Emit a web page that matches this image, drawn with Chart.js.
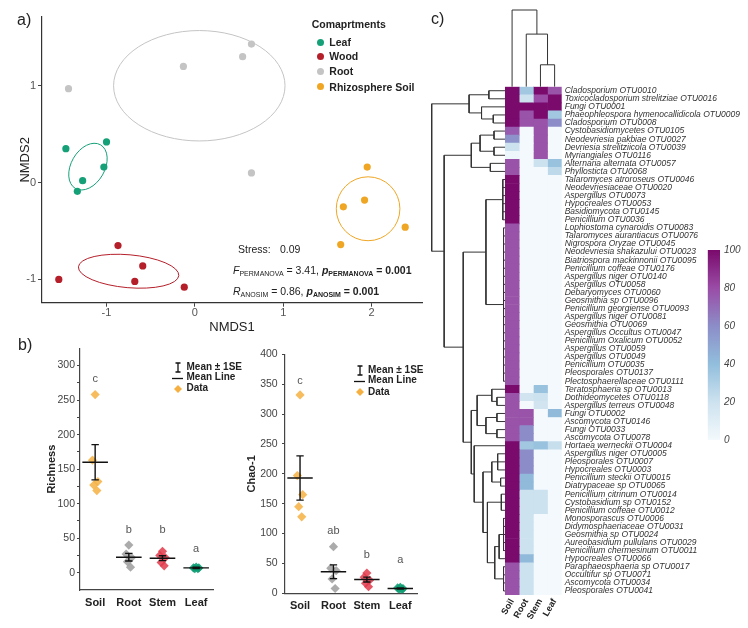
<!DOCTYPE html>
<html lang="en">
<head>
  <meta charset="UTF-8">
  <title>Fungal communities by compartment</title>
  <script src="https://cdn.jsdelivr.net/npm/chart.js"></script>
  <style>
    body { margin: 0; background: #fff; }
    #fig { position: relative; width: 748px; height: 628px; overflow: hidden;
           font-family: "Liberation Sans", Arial, sans-serif; color: #222; }
    #fig canvas, #fig svg, .t, .dot { position: absolute; }
    .t { white-space: nowrap; line-height: 1; }
    .b { font-weight: bold; }
    .dot { width: 7px; height: 7px; border-radius: 50%; }
    .sc { font-size: 7px; position: relative; top: 2px; }
  </style>
  <script>
    addEventListener("DOMContentLoaded", init);

    // ---- a) NMDS ----
    const compartments = ["Leaf", "Wood", "Root", "Rhizosphere Soil"];
    const leafNmds1 = [-1.46, -1.00, -1.03, -1.27, -1.33];
    const leafNmds2 = [0.35, 0.42, 0.16, 0.02, -0.09];
    const woodNmds1 = [-0.87, -0.59, -0.68, -1.54, -0.12];
    const woodNmds2 = [-0.65, -0.86, -1.02, -1.00, -1.08];
    const rootNmds1 = [-1.43, -0.13, 0.54, 0.64, 0.64];
    const rootNmds2 = [0.97, 1.20, 1.30, 1.43, 0.10];
    const soilNmds1 = [1.95, 1.92, 1.68, 1.65, 2.38];
    const soilNmds2 = [0.16, -0.18, -0.25, -0.64, -0.46];
    // group ellipses: centre, semi axes, tilt in degrees
    const ellipseCx = [-1.21, -0.75, 0.05, 1.96];
    const ellipseCy = [0.165, -0.915, 1.0, -0.27];
    const ellipseRx = [0.19, 0.57, 0.97, 0.36];
    const ellipseRy = [0.26, 0.17, 0.57, 0.33];
    const ellipseTilt = [30, 5, 0, 0];
    const nmdsTicks1 = [-1, 0, 1, 2];
    const nmdsTicks2 = [-1, 0, 1];

    // ---- b) richness / Chao-1 ----
    const habitats = ["Soil", "Root", "Stem", "Leaf"];
    const richSoil = [258, 163, 132, 127, 119];
    const richRoot = [40, 27, 22, 16, 8];
    const richStem = [31, 25, 22, 15, 10];
    const richLeaf = [8, 7, 7, 6, 6];
    const richMean = [160, 22.5, 21, 7];
    const richSE = [25.5, 5.5, 3.5, 1];
    const richLetters = ["c", "b", "b", "a"];
    const richLetterAt = [280, 62, 62, 34];
    const richTicks = [0, 50, 100, 150, 200, 250, 300];

    const chaoSoil = [332, 197, 165, 145, 128];
    const chaoRoot = [78, 42, 38, 24, 8];
    const chaoStem = [34, 27, 22, 17, 11];
    const chaoLeaf = [10, 9, 8, 7, 6];
    const chaoMean = [193, 36, 23, 8];
    const chaoSE = [37, 11.5, 4, 1];
    const chaoLetters = ["c", "ab", "b", "a"];
    const chaoLetterAt = [355, 104, 64, 55];
    const chaoTicks = [0, 50, 100, 150, 200, 250, 300, 350, 400];
    // sideways spread of the five samples in a group
    const jitter = [0, -0.08, 0.08, -0.04, 0.05];

    // ---- c) heatmap (relative abundance, %) ----
    const heatColumns = ["Soil", "Root", "Stem", "Leaf"];
    const otuNames = [
      "Cladosporium OTU0010", "Toxicocladosporium strelitziae OTU0016", "Fungi OTU0001",
      "Phaeophleospora hymenocallidicola OTU0009", "Cladosporium OTU0008", "Cystobasidiomycetes OTU0105",
      "Neodevriesia pakbiae OTU0027", "Devriesia strelitziicola OTU0039", "Myriangiales OTU0116",
      "Alternaria alternata OTU0057", "Phyllosticta OTU0068", "Talaromyces atroroseus OTU0046",
      "Neodevriesiaceae OTU0020", "Aspergillus OTU0073", "Hypocreales OTU0053",
      "Basidiomycota OTU0145", "Penicillium OTU0036", "Lophiostoma cynaroidis OTU0083",
      "Talaromyces aurantiacus OTU0076", "Nigrospora Oryzae OTU0045", "Neodevriesia shakazului OTU0023",
      "Biatriospora mackinnonii OTU0095", "Penicillium coffeae OTU0176", "Aspergillus niger OTU0140",
      "Aspergillus OTU0058", "Debaryomyces OTU0060", "Geosmithia sp OTU0096",
      "Penicillium georgiense OTU0093", "Aspergillus niger OTU0081", "Geosmithia OTU0069",
      "Aspergillus Occultus OTU0047", "Penicillium Oxalicum OTU0052", "Aspergillus OTU0059",
      "Aspergillus OTU0049", "Penicillium OTU0035", "Pleosporales OTU0137",
      "Plectosphaerellaceae OTU0111", "Teratosphaeria sp OTU0013", "Dothideomycetes OTU0118",
      "Aspergillus terreus OTU0048", "Fungi OTU0002", "Ascomycota OTU0146",
      "Fungi OTU0033", "Ascomycota OTU0078", "Hortaea werneckii OTU0004",
      "Aspergillus niger OTU0005", "Pleosporales OTU0007", "Hypocreales OTU0003",
      "Penicillium steckii OTU0015", "Diatrypaceae sp OTU0065", "Penicillium citrinum OTU0014",
      "Cystobasidium sp OTU0152", "Penicillium coffeae OTU0012", "Monosporascus OTU0006",
      "Didymosphaeriaceae OTU0031", "Geosmithia sp OTU0024", "Aureobasidium pullulans OTU0029",
      "Penicillium chermesinum OTU0011", "Hypocreales OTU0066", "Paraphaeosphaeria sp OTU0017",
      "Occultifur sp OTU0071", "Ascomycota OTU0034", "Pleosporales OTU0041"
    ];
    const soilPct = [100, 100, 100, 100, 100, 75, 58, 20, 3, 78, 78,
      100, 100, 100, 100, 100, 100,
      78, 78, 78, 78, 78, 78, 78, 78, 78, 78, 78, 78, 78, 78, 78, 78, 78, 78, 78, 78,
      100, 78, 78, 78, 78, 78, 78,
      100, 100, 100, 100, 100, 100, 100, 100, 100, 100, 100, 100, 100, 100, 100,
      78, 78, 78, 78];
    const rootPct = [35, 20, 100, 78, 78,
      0, 0, 0, 0, 0, 0, 0, 0, 0, 0, 0, 0, 0, 0, 0, 0, 0, 0, 0, 0, 0, 0, 0, 0, 0, 0, 0, 0, 0, 0, 0, 0, 0,
      18, 0, 78, 78, 60, 60, 35, 60, 60, 60, 42, 42,
      20, 20, 20, 20, 20, 20, 20, 20, 42, 20, 20, 20, 20];
    const stemPct = [100, 80, 100, 100, 78, 78, 78, 78, 78, 20,
      0, 0, 0, 0, 0, 0, 0, 0, 0, 0, 0, 0, 0, 0, 0, 0, 0, 0, 0, 0, 0, 0, 0, 0, 0, 0, 0,
      38, 20, 18, 0, 0, 0, 0, 38, 0, 0, 0, 0, 0, 20, 20, 20,
      0, 0, 0, 0, 0, 0, 0, 0, 0, 0];
    const leafPct = [78, 100, 100, 35, 60, 0, 0, 0, 0, 38, 25,
      0, 0, 0, 0, 0, 0, 0, 0, 0, 0, 0, 0, 0, 0, 0, 0, 0, 0, 0, 0, 0, 0, 0, 0, 0, 0, 0, 0, 0,
      42, 0, 0, 0, 22,
      0, 0, 0, 0, 0, 0, 0, 0, 0, 0, 0, 0, 0, 0, 0, 0, 0, 0];
    const colorbarTicks = [0, 20, 40, 60, 80, 100];

    // dendrograms: [height, child, child, ...], leaves are row / column numbers
    const rowTree = [10,
      [4.9, [2.2, 1, 2], [3.2, 3, [1.6, 4, 5]]],
      [8.3,
        [4.6, [3.4, [1.5, 6, 7], [1.5, 8, 9]], [2.0, 10, 11]],
        [5.7,
          [2.6, [0.3, 12, 13, 14, 15, 16, 17],
                [0.2, 18, 19, 20, 21, 22, 23, 24, 25, 26, 27, 28, 29, 30, 31, 32, 33, 34, 35, 36, 37]],
          [4.6,
            [3.8, [1.8, 38, [1.1, 39, 40]], [2.6, [1.1, 41, 42], [1.1, 43, 44]]],
            [4.2, 45,
              [3.0, [1.8, [1.0, 46, 47, 48], [0.6, 49, 50]],
                    [2.4, [0.5, 51, 52, 53],
                          [1.4, [0.8, [0.2, 54, 55, 56, 57, 58], 59], [0.2, 60, 61, 62, 63]]]]]]]]];
    const colTree = [3.5, 1, [2.4, 2, [1.0, 3, 4]]];

    const compColors = ["#15a078", "#b51f2a", "#c4c4c4", "#efa624"];
    const habitatColors = ["rgba(245,176,65,0.85)", "rgba(150,150,150,0.8)", "rgba(226,58,75,0.85)", "rgba(16,157,116,0.9)"];
    const heatStops = [[0, "#f3f9fc"], [20, "#cde2ef"], [40, "#92bedc"], [60, "#8c8dc8"], [80, "#9a4ca6"], [100, "#7a0a6c"]];

    Chart.defaults.font.family = '"Liberation Sans", Arial, sans-serif';
    Chart.defaults.animation = false;
    Chart.defaults.plugins.legend.display = false;
    Chart.defaults.plugins.tooltip.enabled = false;

    function init() {
      chartNmds(document.getElementById("nmds"));
      chartStrip(document.getElementById("rich"), [richSoil, richRoot, richStem, richLeaf], richMean, richSE,
        richLetters, richLetterAt, richTicks, -25, 325, "Richness",
        {padding: {left: 0, top: 5, right: 9, bottom: 0}, xh: 38, yw: 80, titlePad: 45.4, tickPad: 2, xPad: 6.4});
      chartStrip(document.getElementById("chao"), [chaoSoil, chaoRoot, chaoStem, chaoLeaf], chaoMean, chaoSE,
        chaoLetters, chaoLetterAt, chaoTicks, 0, 400, "Chao-1",
        {padding: {left: 0, top: 14.3, right: 13, bottom: 0}, xh: 34.7, yw: 70, titlePad: 30.1, tickPad: 4.3, xPad: 6.1});
      chartHeatmap(document.getElementById("heat"));
      chartRowTree(document.getElementById("rowtree"));
      chartColTree(document.getElementById("coltree"));
      chartColorbar(document.getElementById("cbar"));
    }

    const ellipsePlugin = {
      id: "ellipses",
      beforeDatasetsDraw(chart) {
        const {ctx, scales: {x, y}} = chart;
        ctx.save();
        ellipseCx.forEach((cx, i) => {
          const px = x.getPixelForValue(cx), py = y.getPixelForValue(ellipseCy[i]);
          const rx = Math.abs(x.getPixelForValue(cx + ellipseRx[i]) - px);
          const ry = Math.abs(y.getPixelForValue(ellipseCy[i] + ellipseRy[i]) - py);
          ctx.beginPath();
          ctx.ellipse(px, py, rx, ry, ellipseTilt[i] * Math.PI / 180, 0, 2 * Math.PI);
          ctx.strokeStyle = compColors[i];
          ctx.lineWidth = 1;
          ctx.stroke();
        });
        ctx.restore();
      }
    };

    function chartNmds(canvas) {
      const xs = [leafNmds1, woodNmds1, rootNmds1, soilNmds1];
      const ys = [leafNmds2, woodNmds2, rootNmds2, soilNmds2];
      new Chart(canvas, {
        type: "scatter",
        data: {
          datasets: compartments.map((name, i) => ({
            label: name,
            data: xs[i].map((v, j) => ({x: v, y: ys[i][j]})),
            backgroundColor: compColors[i],
            pointRadius: 3.6,
            borderWidth: 0
          }))
        },
        options: {
          responsive: false,
          layout: {padding: {left: 0, top: 17, right: 8, bottom: 3.3}},
          scales: {
            x: {
              min: -1.73, max: 2.57,
              afterBuildTicks: s => { s.ticks = nmdsTicks1.map(v => ({value: v})); },
              afterFit: s => { s.height = 34; },
              grid: {drawOnChartArea: false, tickLength: 4, color: "#444"},
              border: {color: "#333", width: 1.2},
              ticks: {color: "#555", font: {size: 11}, padding: 0},
              title: {display: true, text: "NMDS1", color: "#222", font: {size: 13}, padding: {bottom: 1.9}}
            },
            y: {
              min: -1.24, max: 1.71,
              afterBuildTicks: s => { s.ticks = nmdsTicks2.map(v => ({value: v})); },
              afterFit: s => { s.width = 42; },
              grid: {drawOnChartArea: false, tickLength: 4, color: "#444"},
              border: {color: "#333", width: 1.2},
              ticks: {color: "#555", font: {size: 11}, padding: 2},
              title: {display: true, text: "NMDS2", color: "#222", font: {size: 13}, padding: {top: 17.2}}
            }
          }
        },
        plugins: [ellipsePlugin]
      });
    }

    function meanBars(means, ses) {
      const pts = [];
      means.forEach((m, i) => {
        const c = i + 1, hi = m + ses[i], lo = m - ses[i];
        const gap = {x: c, y: null};
        pts.push({x: c - 0.38, y: m}, {x: c + 0.38, y: m}, gap);
        pts.push({x: c, y: lo}, {x: c, y: hi}, gap);
        pts.push({x: c - 0.11, y: hi}, {x: c + 0.11, y: hi}, gap);
        pts.push({x: c - 0.11, y: lo}, {x: c + 0.11, y: lo}, gap);
      });
      return pts;
    }

    function letterPlugin(letters, at) {
      return {
        id: "letters",
        afterDatasetsDraw(chart) {
          const {ctx, scales: {x, y}} = chart;
          ctx.save();
          ctx.font = '11px "Liberation Sans", Arial, sans-serif';
          ctx.fillStyle = "#555";
          ctx.textAlign = "center";
          ctx.textBaseline = "middle";
          letters.forEach((l, i) => ctx.fillText(l, x.getPixelForValue(i + 1), y.getPixelForValue(at[i])));
          ctx.restore();
        }
      };
    }

    function chartStrip(canvas, groups, means, ses, letters, letterAt, ticks, yMin, yMax, title, box) {
      const points = groups.map((vals, g) => ({
        type: "scatter",
        label: habitats[g],
        data: vals.map((v, k) => ({x: g + 1 + jitter[k], y: v})),
        pointStyle: "rectRot",
        pointRadius: 4.6,
        backgroundColor: habitatColors[g],
        borderWidth: 0
      }));
      const bars = {
        type: "line",
        label: "mean",
        data: meanBars(means, ses),
        borderColor: "#111",
        borderWidth: 1.4,
        pointRadius: 0,
        spanGaps: false,
        clip: false
      };
      // minor ticks halfway between labelled ones
      const allTicks = [];
      ticks.forEach((t, i) => {
        allTicks.push(t);
        if (i < ticks.length - 1) allTicks.push((t + ticks[i + 1]) / 2);
      });
      new Chart(canvas, {
        type: "scatter",
        data: {datasets: [bars].concat(points)},
        options: {
          responsive: false,
          layout: {padding: box.padding},
          scales: {
            x: {
              type: "linear", min: 0.55, max: 4.5,
              afterBuildTicks: s => { s.ticks = habitats.map((h, i) => ({value: i + 1})); },
              afterFit: s => { s.height = box.xh; },
              ticks: {callback: (v, i) => habitats[i], color: "#222", font: {size: 11, weight: "bold"}, padding: box.xPad},
              grid: {display: false, drawTicks: false},
              border: {color: "#444", width: 1.2}
            },
            y: {
              min: yMin, max: yMax,
              afterBuildTicks: s => { s.ticks = allTicks.map(v => ({value: v})); },
              afterFit: s => { s.width = box.yw; },
              ticks: {callback: v => ticks.includes(v) ? String(v) : "", color: "#444", font: {size: 10.5}, padding: box.tickPad},
              grid: {drawOnChartArea: false, tickLength: 3, color: "#444"},
              border: {color: "#444", width: 1.2},
              title: {display: true, text: title, color: "#222", font: {size: 11, weight: "bold"}, padding: {top: box.titlePad}}
            }
          }
        },
        plugins: [letterPlugin(letters, letterAt)]
      });
    }

    function mixHex(a, b, t) {
      const pa = [1, 3, 5].map(i => parseInt(a.substr(i, 2), 16));
      const pb = [1, 3, 5].map(i => parseInt(b.substr(i, 2), 16));
      const c = pa.map((v, i) => Math.round(v + (pb[i] - v) * t));
      return "rgb(" + c.join(",") + ")";
    }

    function heatColor(v) {
      for (let i = 1; i < heatStops.length; i++) {
        if (v <= heatStops[i][0]) {
          const [v0, c0] = heatStops[i - 1], [v1, c1] = heatStops[i];
          return mixHex(c0, c1, (v - v0) / (v1 - v0));
        }
      }
      return heatStops[heatStops.length - 1][1];
    }

    function chartHeatmap(canvas) {
      const cols = [soilPct, rootPct, stemPct, leafPct];
      new Chart(canvas, {
        type: "bar",
        data: {
          labels: otuNames,
          datasets: cols.map((vals, c) => ({
            label: heatColumns[c],
            data: vals.map(() => [c, c + 1]),
            backgroundColor: vals.map(heatColor),
            borderWidth: 0,
            barPercentage: 1,
            categoryPercentage: 1,
            grouped: false
          }))
        },
        options: {
          responsive: false,
          indexAxis: "y",
          layout: {padding: {left: 75, top: 86.7, right: 0, bottom: 0}},
          scales: {
            x: {
              type: "linear", min: 0, max: 4,
              afterBuildTicks: s => { s.ticks = heatColumns.map((h, i) => ({value: i + 0.5})); },
              afterFit: s => { s.height = 33; },
              ticks: {callback: (v, i) => heatColumns[i], color: "#222", font: {size: 9, weight: "bold"},
                      minRotation: 60, maxRotation: 60, padding: 2},
              grid: {display: false, drawTicks: false},
              border: {display: false}
            },
            y: {
              type: "category", position: "right", offset: true,
              afterFit: s => { s.width = 186.3; },
              ticks: {autoSkip: false, color: "#333", font: {size: 8.5, style: "italic"}, padding: 3},
              grid: {display: false, drawTicks: false},
              border: {display: false}
            }
          }
        }
      });
    }

    // turns a nested tree into line points, with null gaps between the pieces
    function layoutTree(node, segs) {
      if (typeof node === "number") return {p: node - 1, h: 0};
      const h = node[0];
      const kids = node.slice(1).map(k => layoutTree(k, segs));
      kids.forEach(k => { segs.push({p: k.p, h: k.h}, {p: k.p, h: h}, null); });
      const first = kids[0].p, last = kids[kids.length - 1].p;
      segs.push({p: first, h: h}, {p: last, h: h}, null);
      return {p: (first + last) / 2, h: h};
    }

    function treeChart(canvas, pts, xScale, yScale, padding) {
      new Chart(canvas, {
        type: "line",
        data: {
          datasets: [{
            data: pts,
            borderColor: "#333",
            borderWidth: 1,
            pointRadius: 0,
            spanGaps: false,
            clip: false
          }]
        },
        options: {
          responsive: false,
          layout: {padding: padding},
          scales: {x: xScale, y: yScale}
        }
      });
    }

    function chartRowTree(canvas) {
      const segs = [];
      layoutTree(rowTree, segs);
      const pts = segs.map(s => s ? {x: s.h, y: s.p} : {x: 0, y: null});
      treeChart(canvas, pts,
        {type: "linear", display: false, min: 0, max: 10, reverse: true},
        {type: "linear", display: false, min: -0.5, max: otuNames.length - 0.5, reverse: true},
        {left: 1.7, right: 0, top: 86.7, bottom: 33});
    }

    function chartColTree(canvas) {
      const segs = [];
      layoutTree(colTree, segs);
      const pts = segs.map(s => s ? {x: s.p + 0.5, y: s.h} : {x: 0, y: null});
      treeChart(canvas, pts,
        {type: "linear", display: false, min: 0, max: 4},
        {type: "linear", display: false, min: 0, max: 3.5},
        {left: 5, right: 5.3, top: 10, bottom: 3.3});
    }

    function chartColorbar(canvas) {
      new Chart(canvas, {
        type: "bar",
        data: {
          labels: [""],
          datasets: [{
            data: [[0, 100]],
            barPercentage: 1,
            categoryPercentage: 1,
            borderWidth: 0,
            backgroundColor: function(context) {
              const area = context.chart.chartArea;
              if (!area) return null;
              const g = context.chart.ctx.createLinearGradient(0, area.bottom, 0, area.top);
              heatStops.forEach(s => g.addColorStop(s[0] / 100, s[1]));
              return g;
            }
          }]
        },
        options: {
          responsive: false,
          layout: {padding: {left: 7.7, right: 0, top: 10, bottom: 9}},
          scales: {
            x: {display: false},
            y: {
              position: "right", min: 0, max: 100,
              afterBuildTicks: s => { s.ticks = colorbarTicks.map(v => ({value: v})); },
              afterFit: s => { s.width = 28; },
              ticks: {color: "#444", font: {size: 10, style: "italic"}, padding: 4},
              grid: {display: false, drawTicks: false},
              border: {display: false}
            }
          }
        }
      });
    }
  </script>
</head>
<body>
  <div id="fig">
    <canvas id="nmds" width="430" height="340" style="left:0;top:0"></canvas>
    <canvas id="rich" width="222" height="288" style="left:0;top:340px"></canvas>
    <canvas id="chao" width="215" height="288" style="left:215px;top:340px"></canvas>
    <canvas id="rowtree" width="75" height="628" style="left:430px;top:0"></canvas>
    <canvas id="coltree" width="67" height="90" style="left:500px;top:0"></canvas>
    <canvas id="heat" width="318" height="628" style="left:430px;top:0"></canvas>
    <canvas id="cbar" width="48" height="210" style="left:700px;top:240px"></canvas>

    <div class="t" style="left:17px;top:12px;font-size:16px">a)</div>
    <div class="t" style="left:18px;top:337px;font-size:16px">b)</div>
    <div class="t" style="left:431px;top:11px;font-size:16px">c)</div>

    <div class="t b" style="left:311.7px;top:18.5px;font-size:10.5px">Comaprtments</div>
    <div class="dot" style="left:317.2px;top:38.8px;background:#15a078"></div>
    <div class="dot" style="left:317.2px;top:53.2px;background:#b51f2a"></div>
    <div class="dot" style="left:317.2px;top:67.5px;background:#c4c4c4"></div>
    <div class="dot" style="left:317.2px;top:82.5px;background:#efa624"></div>
    <div class="t b" style="left:329.3px;top:37px;font-size:10.5px">Leaf</div>
    <div class="t b" style="left:329.3px;top:51.3px;font-size:10.5px">Wood</div>
    <div class="t b" style="left:329.3px;top:65.7px;font-size:10.5px">Root</div>
    <div class="t b" style="left:329.3px;top:81.5px;font-size:10.5px">Rhizosphere Soil</div>

    <div class="t" style="left:238px;top:243.5px;font-size:10.5px">Stress:</div>
    <div class="t" style="left:280px;top:243.5px;font-size:10.5px">0.09</div>
    <div class="t" style="left:233px;top:265px;font-size:10.5px"><i>F</i><span class="sc">PERMANOVA</span> = 3.41, <b><i>p</i><span class="sc">PERMANOVA</span> = 0.001</b></div>
    <div class="t" style="left:233px;top:285.5px;font-size:10.5px"><i>R</i><span class="sc">ANOSIM</span> = 0.86, <b><i>p</i><span class="sc">ANOSIM</span> = 0.001</b></div>

    <svg style="left:170px;top:360px" width="16" height="34">
      <path d="M8 3V12M5.5 3H10.5M5.5 12H10.5" stroke="#111" stroke-width="1.3" fill="none"/>
      <path d="M2 18.5H13" stroke="#111" stroke-width="1.3"/>
      <path d="M8 25L12 29L8 33L4 29Z" fill="#f5b041"/>
    </svg>
    <div class="t b" style="left:186.5px;top:362.3px;font-size:10px">Mean ± 1SE</div>
    <div class="t b" style="left:186.5px;top:372px;font-size:10px">Mean Line</div>
    <div class="t b" style="left:186.5px;top:382.7px;font-size:10px">Data</div>

    <svg style="left:352px;top:363px" width="16" height="34">
      <path d="M8 3V12M5.5 3H10.5M5.5 12H10.5" stroke="#111" stroke-width="1.3" fill="none"/>
      <path d="M2 18.5H13" stroke="#111" stroke-width="1.3"/>
      <path d="M8 25L12 29L8 33L4 29Z" fill="#f5b041"/>
    </svg>
    <div class="t b" style="left:368px;top:365px;font-size:10px">Mean ± 1SE</div>
    <div class="t b" style="left:368px;top:375px;font-size:10px">Mean Line</div>
    <div class="t b" style="left:368px;top:386.5px;font-size:10px">Data</div>
  </div>
</body>
</html>
